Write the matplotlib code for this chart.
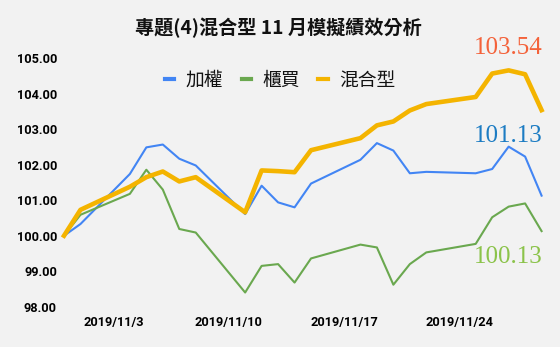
import matplotlib
matplotlib.use("Agg")
import matplotlib.pyplot as plt
import numpy as np
from matplotlib.lines import Line2D
from datetime import datetime, timedelta

plt.rcParams['font.family'] = ['Noto Sans CJK TC', 'DejaVu Sans']

# trading days, Oct 31 base = 100
dates = ["2019-10-31", "2019-11-01",
         "2019-11-04", "2019-11-05", "2019-11-06", "2019-11-07", "2019-11-08",
         "2019-11-11", "2019-11-12", "2019-11-13", "2019-11-14", "2019-11-15",
         "2019-11-18", "2019-11-19", "2019-11-20", "2019-11-21", "2019-11-22",
         "2019-11-25", "2019-11-26", "2019-11-27", "2019-11-28", "2019-11-29"]
weighted = [100.00, 100.33, 101.74, 102.49, 102.57, 102.17, 101.98,
            100.61, 101.41, 100.94, 100.80, 101.47,
            102.14, 102.61, 102.40, 101.76, 101.80,
            101.76, 101.88, 102.51, 102.23, 101.13]
otc = [100.00, 100.59, 101.18, 101.86, 101.30, 100.19, 100.09,
       98.40, 99.15, 99.20, 98.68, 99.36,
       99.75, 99.67, 98.62, 99.20, 99.53,
       99.77, 100.52, 100.82, 100.91, 100.13]
mixed = [100.00, 100.73, 101.38, 101.65, 101.81, 101.53, 101.65,
         100.66, 101.84, 101.82, 101.79, 102.41,
         102.75, 103.11, 103.22, 103.53, 103.71,
         103.91, 104.57, 104.66, 104.55, 103.54]

names = ["加權", "櫃買", "混合型"]
line_colors = ["#4285f4", "#6aa84f", "#f4b400"]
label_colors = ["#1c7cc3", "#8bc34a", "#f4623a"]
tick_dates = ["2019-11-03", "2019-11-10", "2019-11-17", "2019-11-24"]
yticks = [98, 99, 100, 101, 102, 103, 104, 105]

x = [datetime.strptime(d, "%Y-%m-%d") for d in dates]
bg = "#f2f2f2"

fig = plt.figure(figsize=(5.6, 3.47), dpi=100, facecolor=bg)
ax = fig.add_axes([60 / 560, 40.3 / 347, 488 / 560, 248.4 / 347], facecolor=bg)

ax.plot(x, weighted, color=line_colors[0], lw=1.5)
ax.plot(x, otc, color=line_colors[1], lw=1.5)
ax.plot(x, mixed, color=line_colors[2], lw=3.3)

ax.set_xlim(x[0] - timedelta(days=0.243), x[0] + timedelta(days=29.39))
ax.set_ylim(98, 105)

for s in ax.spines.values():
    s.set_visible(False)

ax.set_yticks(yticks)
ax.set_yticklabels([f"{v:.2f}" for v in yticks], family="Roboto",
                   fontweight="bold", fontsize=9.2)
ticks = [datetime.strptime(d, "%Y-%m-%d") for d in tick_dates]
ax.set_xticks(ticks)
ax.set_xticklabels([f"{t.year}/{t.month}/{t.day}" for t in ticks],
                   family="Roboto", fontweight="bold", fontsize=9.2)
ax.tick_params(axis="y", length=0, pad=2.2)
ax.tick_params(axis="x", length=0, pad=6.5)

# final value labels, pixel offsets from the last point
ends = [(weighted, 60), (otc, -26), (mixed, 62)]
for i, (series, dy) in enumerate(ends):
    ax.annotate(f"{series[-1]:.2f}", xy=(x[-1], series[-1]),
                xytext=(1, dy), textcoords="offset pixels",
                ha="right", va="center", family="Liberation Serif",
                fontsize=18, color=label_colors[i])

fig.text(0.497, 0.921, "專題(4)混合型 11 月模擬績效分析", ha="center", va="center",
         fontsize=13.8, fontweight="bold", color="#111111")

handles = [Line2D([], [], color=c, lw=3) for c in line_colors]
fig.legend(handles, names, loc="center", bbox_to_anchor=(0.5, 0.769), ncol=3,
           frameon=False, fontsize=13.5, handlelength=0.5, handletextpad=0.6,
           columnspacing=1.0, labelcolor="#111111")

fig.savefig("out.png", dpi=100, facecolor=bg)
